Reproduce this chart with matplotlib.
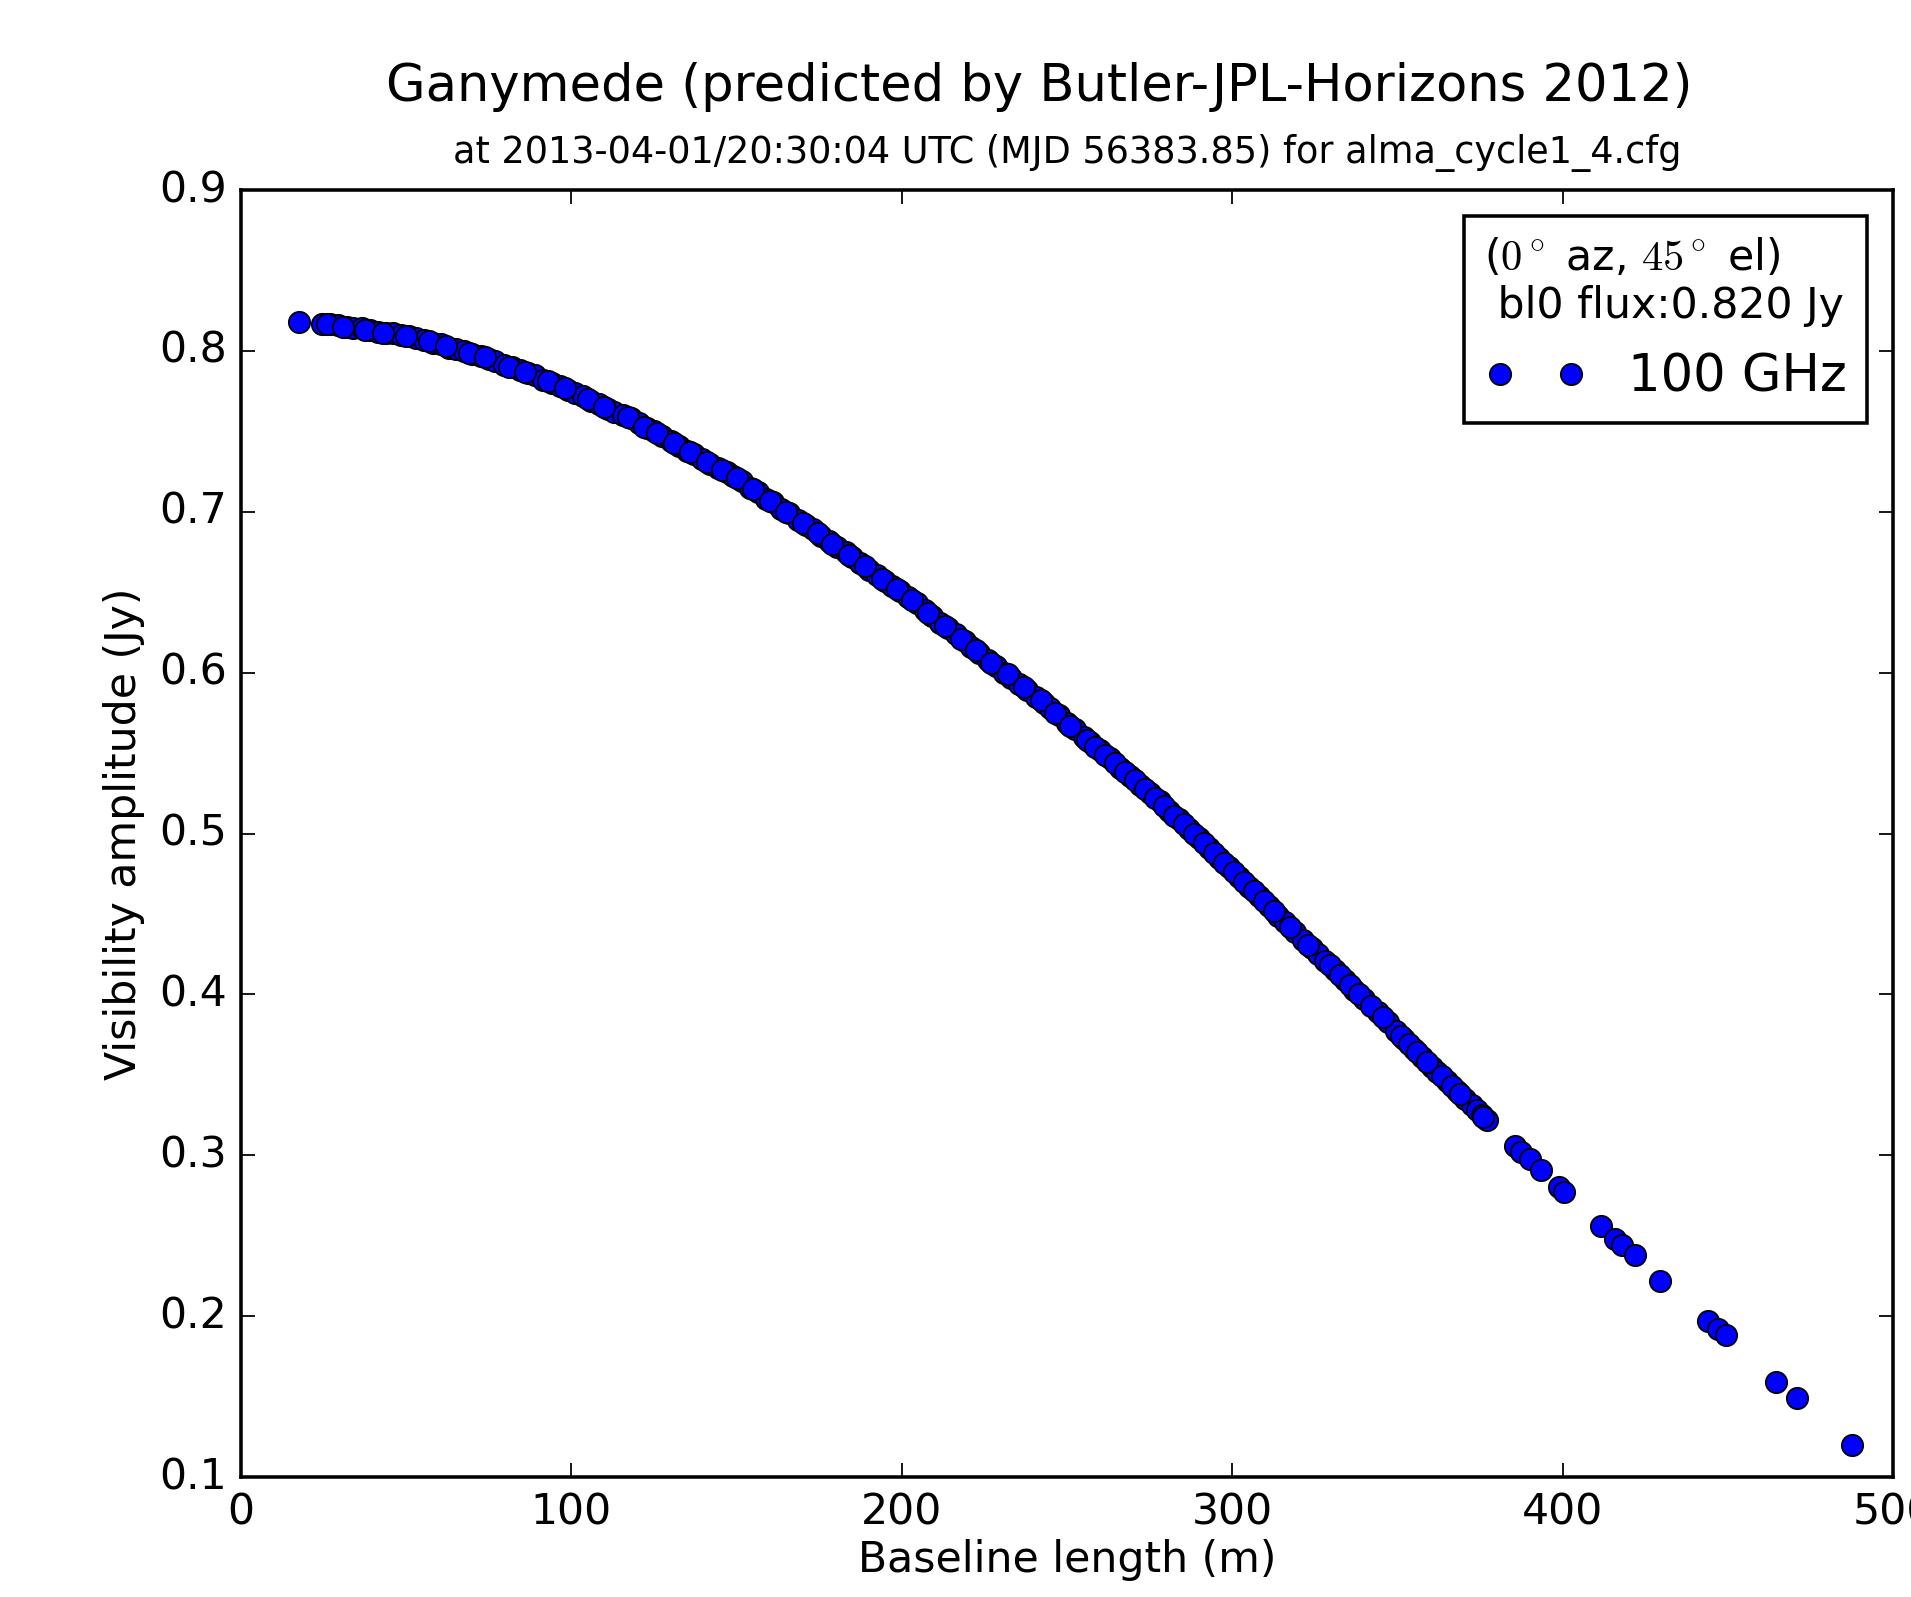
import matplotlib
matplotlib.use('Agg')
import matplotlib.pyplot as plt

# baseline lengths (m) and model visibility amplitudes (Jy)
baseline_m = [
    17.5, 24.5, 27, 29.5, 32, 34, 36.5, 39, 41.5, 44, 46, 48.5, 51, 53, 55.5,
    58, 60.5, 63, 65, 67.5, 70, 72.5, 75, 77, 79.5, 82, 84.5, 87, 89, 91.5,
    94, 96.5, 99, 101, 103.5, 106, 108.5, 111, 113, 115.5, 118, 120.5, 123,
    125, 127.5, 130, 132.5, 135, 137, 139.5, 142, 144.5, 147, 149, 151.5,
    154, 156.5, 159, 161, 163.5, 166, 168.5, 171, 173, 175.5, 178, 180.5,
    183, 185, 187.5, 190, 192.5, 195, 197, 199.5, 202, 204.5, 207, 209,
    211.5, 214, 216.5, 219, 221, 223.5, 226, 228.5, 231, 233, 235.5, 238,
    240.5, 243, 245, 247.5, 250, 252.5, 255, 257, 260, 263, 266, 269, 272,
    275, 278, 281, 284, 287, 290, 293, 296, 299, 302, 305, 308, 311, 314,
    316, 319, 321.5, 324, 326, 328, 331, 334, 337, 340, 344, 347, 349.5,
    352, 355, 357.5, 360.5, 362, 365, 368, 370.5, 372.5, 374, 375.5, 377,
    385.5, 387.5, 390, 393.5, 399, 400.5, 411.5, 416, 418, 422, 429.5,
    444, 447, 449.5, 464.5, 471, 487.5,
]
amplitude_jy = [
    0.818, 0.817, 0.817, 0.816, 0.815, 0.814, 0.814, 0.813, 0.812, 0.811,
    0.811, 0.810, 0.809, 0.808, 0.807, 0.805, 0.804, 0.802, 0.801, 0.800,
    0.798, 0.797, 0.795, 0.794, 0.791, 0.790, 0.788, 0.786, 0.785, 0.782,
    0.780, 0.778, 0.776, 0.774, 0.772, 0.769, 0.767, 0.764, 0.762, 0.760,
    0.758, 0.755, 0.752, 0.750, 0.747, 0.744, 0.741, 0.738, 0.736, 0.733,
    0.730, 0.727, 0.725, 0.722, 0.719, 0.715, 0.712, 0.708, 0.706, 0.702,
    0.699, 0.695, 0.692, 0.689, 0.685, 0.682, 0.678, 0.675, 0.672, 0.668,
    0.664, 0.661, 0.657, 0.654, 0.651, 0.647, 0.643, 0.639, 0.635, 0.631,
    0.628, 0.624, 0.620, 0.616, 0.612, 0.608, 0.604, 0.600, 0.597, 0.593,
    0.589, 0.585, 0.581, 0.578, 0.574, 0.569, 0.565, 0.560, 0.557, 0.552,
    0.547, 0.541, 0.536, 0.530, 0.525, 0.520, 0.514, 0.509, 0.503, 0.497,
    0.491, 0.485, 0.479, 0.473, 0.467, 0.461, 0.455, 0.449, 0.445, 0.439,
    0.434, 0.429, 0.425, 0.421, 0.415, 0.409, 0.403, 0.397, 0.389, 0.383,
    0.377, 0.372, 0.366, 0.361, 0.355, 0.352, 0.346, 0.340, 0.335, 0.331,
    0.328, 0.325, 0.322,
    0.306, 0.302, 0.298, 0.291, 0.280, 0.277, 0.256, 0.248, 0.244, 0.238,
    0.222, 0.197, 0.192, 0.188, 0.159, 0.149, 0.120,
]

# further baselines that pile up inside the dense band
dense_baseline_m = [
    26, 31, 37.5, 43, 50, 57, 62, 69, 74, 81, 86, 93, 98, 105, 110, 117,
    122, 126, 131, 136, 141, 145.5, 150, 155, 160, 165, 170, 174.5, 179,
    184, 189, 194, 198.5, 203, 208, 213, 218, 222.5, 227, 232, 237, 242,
    246.5, 251, 256, 258.5, 261.5, 264.5, 267.5, 270.5, 273.5, 276.5, 279.5,
    282.5, 285.5, 288.5, 291.5, 294.5, 297.5, 300.5, 303.5, 306.5, 309.5,
    312.5, 317.5, 323, 329.5, 332.5, 335.5, 338.5, 342, 345.5, 351, 353.5,
    356, 359, 363.5, 366.5, 369, 376,
]
dense_amplitude_jy = [
    0.817, 0.815, 0.813, 0.811, 0.809, 0.806, 0.803, 0.799, 0.796, 0.790,
    0.787, 0.781, 0.777, 0.770, 0.765, 0.759, 0.753, 0.749, 0.743, 0.737,
    0.731, 0.726, 0.721, 0.714, 0.707, 0.700, 0.693, 0.687, 0.680, 0.673,
    0.666, 0.658, 0.652, 0.645, 0.637, 0.629, 0.621, 0.614, 0.606, 0.599,
    0.591, 0.583, 0.575, 0.567, 0.558, 0.554, 0.549, 0.544, 0.538, 0.533,
    0.528, 0.522, 0.517, 0.511, 0.506, 0.500, 0.494, 0.488, 0.482, 0.476,
    0.470, 0.464, 0.458, 0.452, 0.442, 0.431, 0.418, 0.412, 0.406, 0.400,
    0.393, 0.386, 0.374, 0.369, 0.364, 0.358, 0.349, 0.343, 0.338, 0.324,
]

title = 'Ganymede (predicted by Butler-JPL-Horizons 2012)'
subtitle = 'at 2013-04-01/20:30:04 UTC (MJD 56383.85) for alma_cycle1_4.cfg'
legend_title = '($0^\\circ$ az, $45^\\circ$ el)\n bl0 flux:0.820 Jy'

plt.style.use('classic')

dpi = 256
fig = plt.figure(figsize=(1911 / dpi, 1597 / dpi), dpi=dpi, facecolor='white')
ax = fig.add_axes([0.1261, 0.0751, 0.8645, 0.8059])

ax.plot(baseline_m + dense_baseline_m, amplitude_jy + dense_amplitude_jy,
        'bo', label='100 GHz')
ax.set_xlim(0, 500)
ax.set_ylim(0.1, 0.9)
ax.set_xlabel('Baseline length (m)', labelpad=1.6)
ax.set_ylabel('Visibility amplitude (Jy)', labelpad=4)

fig.text(0.5437, 0.9368, title, ha='center', va='baseline', fontsize=14.4)
fig.text(0.5585, 0.898, subtitle, ha='center', va='baseline', fontsize=10.3)

leg = ax.legend(loc='upper right', numpoints=2, title=legend_title,
                alignment='left', borderaxespad=0,
                bbox_to_anchor=(0.9843, 0.9798))

fig.savefig('out.png', dpi=dpi, facecolor='white')
